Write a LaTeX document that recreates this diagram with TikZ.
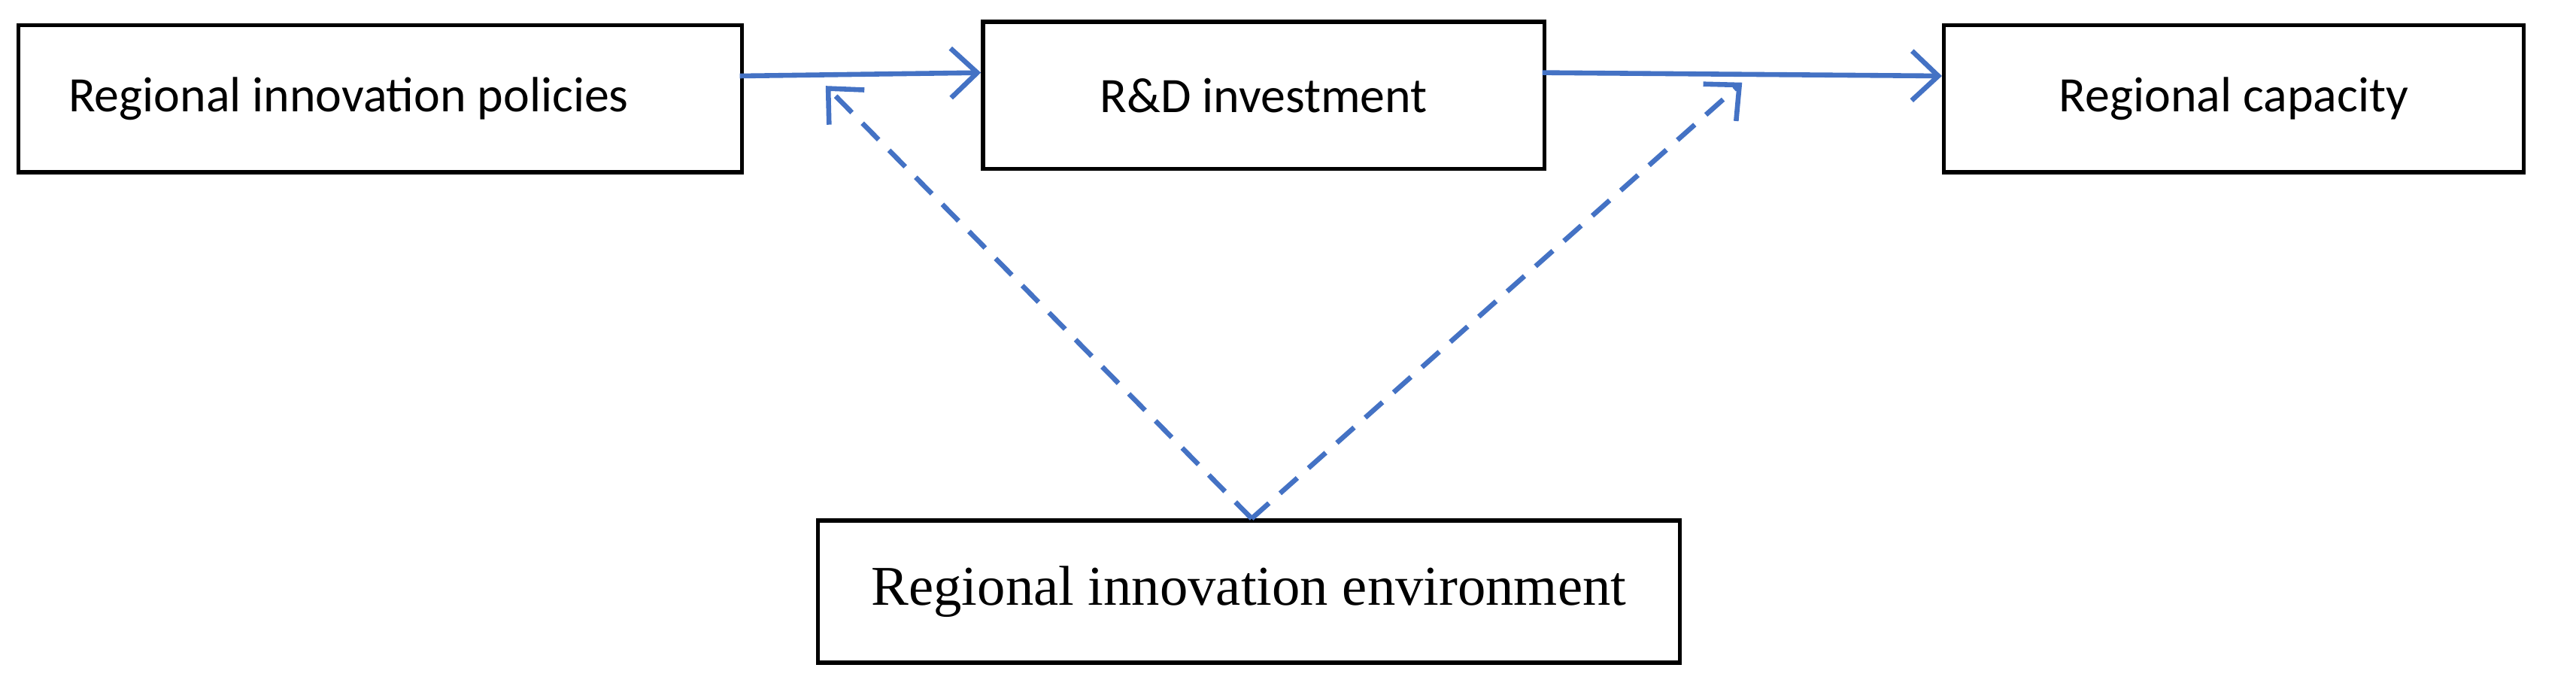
\documentclass[tikz,border=0pt]{standalone}
\usepackage{fontspec}
\setmainfont{Carlito}
\newfontfamily\serifb{Liberation Serif}
\usetikzlibrary{arrows.meta}
\definecolor{arr}{HTML}{4472C4}
\tikzset{box/.style={draw,line width=2.5pt,inner sep=0pt,anchor=north west},
 conn/.style={draw=arr,line width=3pt,-{Straight Barb[length=16pt,width=30pt,line width=3pt]}},
 dconn/.style={conn,dash pattern=on 14pt off 9pt}}
\begin{document}
\begin{tikzpicture}[x=1pt,y=-1pt,font=\fontsize{30}{36}\selectfont]
\useasboundingbox (0,0) rectangle (1560,415);
\node[box,minimum width=438pt,minimum height=89pt] (a) at (10,14) {};
\node[anchor=west] at (38,60) {Regional innovation policies};
\node[box,minimum width=340pt,minimum height=89pt] (b) at (594,12) {};
\node at (b.center) {R\&D investment};
\node[box,minimum width=351pt,minimum height=89pt] (c) at (1176,14) {};
\node at (c.center) {Regional capacity};
\node[box,minimum width=522pt,minimum height=86pt] (d) at (494,314) {};
\node[font=\serifb\fontsize{34}{40}\selectfont] at (d.center) {Regional innovation environment};
\coordinate (a1) at (448,46); \coordinate (b1) at (594,44);
\coordinate (b2) at (934,44); \coordinate (c1) at (1176,46);
\coordinate (d1) at (758,314);
\coordinate (t1) at (500,52); \coordinate (t2) at (1055,50);
\draw[conn] (a1) -- (b1);
\draw[conn] (b2) -- (c1);
\draw[dconn] (d1) -- (t1);
\draw[dconn] (d1) -- (t2);
\end{tikzpicture}
\end{document}
